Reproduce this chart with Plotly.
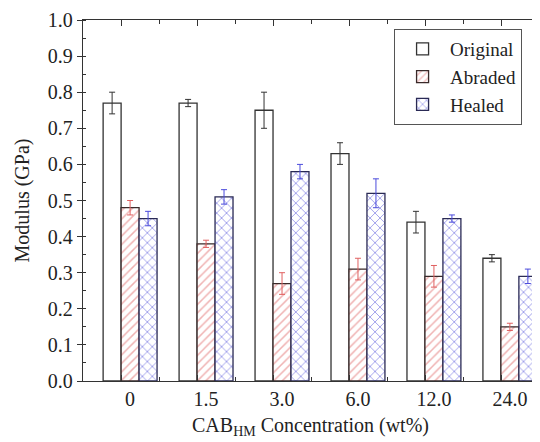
import plotly.graph_objects as go

categories = ["0", "1.5", "3.0", "6.0", "12.0", "24.0"]
original = [0.77, 0.77, 0.75, 0.63, 0.44, 0.34]
original_err = [0.03, 0.01, 0.05, 0.03, 0.03, 0.01]
abraded = [0.48, 0.38, 0.27, 0.31, 0.29, 0.15]
abraded_err = [0.02, 0.01, 0.03, 0.03, 0.03, 0.01]
healed = [0.45, 0.51, 0.58, 0.52, 0.45, 0.29]
healed_err = [0.02, 0.02, 0.02, 0.04, 0.01, 0.02]
y_ticks = [0.0, 0.1, 0.2, 0.3, 0.4, 0.5, 0.6, 0.7, 0.8, 0.9, 1.0]

xpos = list(range(len(categories)))
FONT = "Liberation Serif"

fig = go.Figure()
fig.add_trace(go.Bar(
    x=xpos, y=original, name="Original",
    marker=dict(color="white", line=dict(color="#333333", width=1.3)),
    error_y=dict(type="data", array=original_err, color="#333333", thickness=1, width=3),
))
fig.add_trace(go.Bar(
    x=xpos, y=abraded, name="Abraded",
    marker=dict(color="white", line=dict(color="#3a2a2a", width=1.3),
                pattern=dict(shape="/", fgcolor="#e06666", bgcolor="white", size=6, solidity=0.25)),
    error_y=dict(type="data", array=abraded_err, color="#e06060", thickness=1, width=3),
))
fig.add_trace(go.Bar(
    x=xpos, y=healed, name="Healed",
    marker=dict(color="white", line=dict(color="#2a2a55", width=1.3),
                pattern=dict(shape="x", fgcolor="#4040d8", bgcolor="white", size=7, solidity=0.25)),
    error_y=dict(type="data", array=healed_err, color="#4b4bdc", thickness=1, width=3),
))

xr = [-0.62, 5.37]
tickpos = [p - 0.11 for p in xpos]
minorpos = [p + 0.39 for p in xpos]

fig.update_layout(
    width=532, height=434,
    margin=dict(l=75, r=2, t=12, b=61),
    paper_bgcolor="white", plot_bgcolor="white",
    font=dict(family=FONT, size=20, color="#222222"),
    barmode="group", bargap=0.29, bargroupgap=0,
    showlegend=True,
    legend=dict(x=0.965, y=0.975, xanchor="right", yanchor="top",
                bordercolor="#555555", borderwidth=1, bgcolor="white",
                font=dict(family=FONT, size=19), tracegroupgap=0, itemwidth=45),
    xaxis=dict(range=xr, tickvals=xpos, ticktext=categories, ticks="",
               showline=True, linecolor="#333333", linewidth=1.3, mirror=True,
               showgrid=False, zeroline=False, automargin=False,
               title=dict(text="CAB<sub>HM</sub> Concentration (wt%)", standoff=8,
                          font=dict(family=FONT, size=20))),
    xaxis2=dict(range=xr, overlaying="x", side="top", tickvals=tickpos, ticks="inside",
                ticklen=6, tickcolor="#333333", showticklabels=False, mirror="ticks",
                showgrid=False, zeroline=False, showline=False, automargin=False,
                minor=dict(tickvals=minorpos, ticks="inside", ticklen=4, tickcolor="#333333")),
    yaxis=dict(range=[0, 1.0], tickvals=y_ticks, tickformat=".1f", ticks="outside",
               ticklen=5, tickcolor="#333333", showline=True, linecolor="#333333",
               linewidth=1.3, showgrid=False, zeroline=False, automargin=False,
               minor=dict(dtick=0.05, ticks="inside", ticklen=3, tickcolor="#333333"),
               title=dict(text="Modulus (GPa)", standoff=12, font=dict(family=FONT, size=20))),
    yaxis2=dict(range=[0, 1.0], overlaying="y", side="right", tickvals=y_ticks,
                ticks="inside", ticklen=5, tickcolor="#333333", showticklabels=False,
                showgrid=False, zeroline=False, showline=True, linecolor="#333333",
                linewidth=1.3, automargin=False,
                minor=dict(dtick=0.05, ticks="inside", ticklen=3, tickcolor="#333333")),
)
fig.add_trace(go.Scatter(x=[xr[0]], y=[0], xaxis="x2", yaxis="y2", mode="markers",
                         marker=dict(opacity=0), showlegend=False, hoverinfo="skip"))

fig.write_html("out.html")
